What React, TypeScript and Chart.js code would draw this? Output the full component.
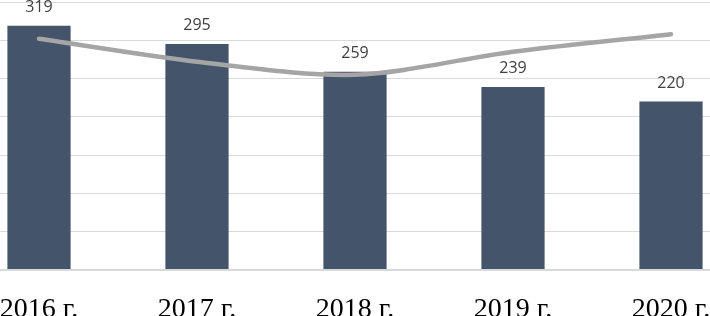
import React, { useEffect, useRef } from "react";
import { Chart, registerables } from "chart.js";

Chart.register(...registerables);

const categories = ["2016 г.", "2017 г.", "2018 г.", "2019 г.", "2020 г."];
const barValues = [319, 295, 259, 239, 220];
const lineValues = [302, 272, 255, 285, 308];
const yMax = 350;
const yStep = 50;

const barLabelPlugin = {
  id: "barLabels",
  afterDatasetsDraw(chart: any) {
    const ctx = chart.ctx;
    const meta = chart.getDatasetMeta(1);
    ctx.save();
    ctx.font = "16px 'Open Sans', sans-serif";
    ctx.fillStyle = "#404040";
    ctx.textAlign = "center";
    ctx.textBaseline = "alphabetic";
    meta.data.forEach((el: any, i: number) => {
      ctx.fillText(String(barValues[i]), el.x, el.y - 14);
    });
    ctx.restore();
  },
};

export default function App() {
  const ref = useRef<HTMLCanvasElement>(null);
  useEffect(() => {
    if (!ref.current) return;
    const chart = new Chart(ref.current, {
      type: "bar",
      data: {
        labels: categories,
        datasets: [
          {
            type: "line",
            data: lineValues,
            borderColor: "#a5a5a5",
            borderWidth: 4.5,
            pointRadius: 0,
            tension: 0.3,
            borderCapStyle: "round",
            order: 0,
          } as any,
          {
            type: "bar",
            data: barValues,
            backgroundColor: "#44546a",
            categoryPercentage: 1,
            barPercentage: 0.4,
            order: 1,
          },
        ],
      },
      options: {
        responsive: false,
        animation: false,
        plugins: { legend: { display: false }, tooltip: { enabled: false } },
        layout: { padding: { top: 2, left: 0, right: 0, bottom: 0 } },
        scales: {
          x: {
            grid: { display: false },
            border: { display: false },
            ticks: {
              color: "#000000",
              font: { family: "'Liberation Serif', 'Times New Roman', serif", size: 28 },
              padding: 15,
              maxRotation: 0,
            },
            afterFit: (s: any) => {
              s.height = 46;
            },
          },
          y: {
            min: 0,
            max: yMax,
            ticks: { display: false, stepSize: yStep },
            grid: {
              color: "#d9d9d9",
              lineWidth: (c: any) => (c.tick && c.tick.value === 0 ? 2 : 1),
              drawTicks: false,
            },
            border: { display: false },
            afterFit: (s: any) => {
              s.width = 0;
            },
          },
        },
      },
      plugins: [barLabelPlugin],
    });
    return () => chart.destroy();
  }, []);
  return (
    <div style={{ position: "fixed", left: -40, top: 0, width: 790, height: 316, background: "#fff" }}>
      <canvas ref={ref} width={790} height={316} style={{ display: "block" }} />
    </div>
  );
}
